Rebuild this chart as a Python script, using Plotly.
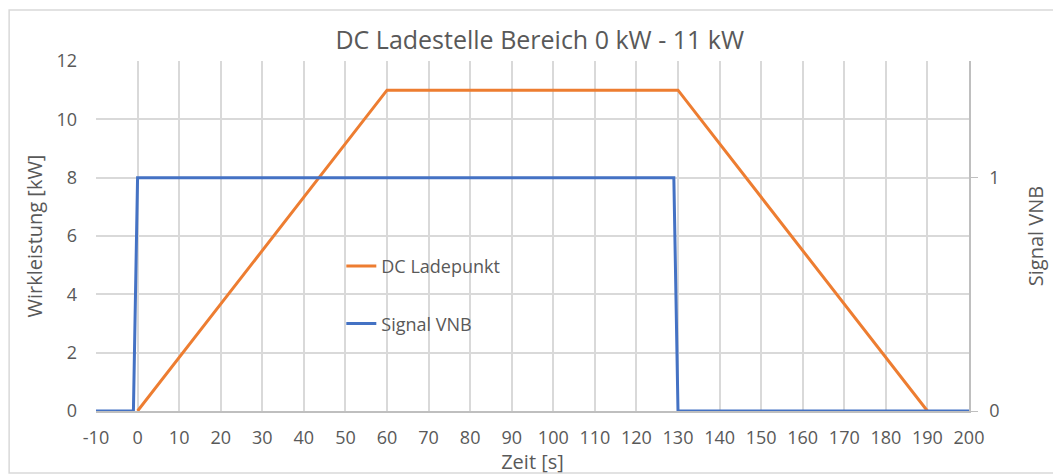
import plotly.graph_objects as go

# data
zeit_lade = [0, 60, 130, 190]
leistung_lade = [0, 11, 11, 0]

zeit_signal = [-10, -1, 0, 129, 130, 200]
signal_vnb = [0, 0, 1, 1, 0, 0]

x_ticks = list(range(-10, 201, 10))
x_labels = [str(v) for v in x_ticks]  # keeps a plain hyphen for "-10"
y_ticks = [0, 2, 4, 6, 8, 10, 12]

GREY_TEXT = "#595959"
GRID = "#d9d9d9"
ORANGE = "#ED7D31"
BLUE = "#4472C4"
FONT = "Open Sans"

fig = go.Figure()
fig.add_trace(go.Scatter(
    x=zeit_lade, y=leistung_lade, mode="lines", name="DC Ladepunkt",
    line={"color": ORANGE, "width": 3}, legendgroup="a",
))
fig.add_trace(go.Scatter(
    x=zeit_signal, y=signal_vnb, mode="lines", name="Signal VNB",
    line={"color": BLUE, "width": 3}, yaxis="y2", legendgroup="b",
))

# the page body adds an 8px offset, so the figure is sized to fit the window
fig.update_layout(
    width=1053, height=467,
    margin={"l": 88, "r": 92, "t": 53, "b": 64},
    paper_bgcolor="white", plot_bgcolor="white",
    font={"family": FONT, "color": GREY_TEXT, "size": 18},
    title={
        "text": "DC Ladestelle Bereich 0 kW - 11 kW",
        "font": {"size": 25, "color": GREY_TEXT},
        "x": 0.505, "xanchor": "center", "xref": "container",
        "y": 0.931, "yanchor": "middle", "yref": "container",
    },
    xaxis={
        "range": [-10, 200], "tickvals": x_ticks, "ticktext": x_labels,
        "showgrid": True, "gridcolor": GRID, "gridwidth": 1.5,
        "zeroline": False, "showline": True, "linecolor": "#bfbfbf",
        "linewidth": 1.5, "ticks": "", "ticklabelstandoff": 10,
        "title": {"text": "Zeit [s]", "font": {"size": 20}, "standoff": 0},
    },
    yaxis={
        "range": [0, 12], "tickvals": y_ticks, "showgrid": True,
        "gridcolor": GRID, "gridwidth": 1.5, "zeroline": False,
        "ticks": "", "ticklabelstandoff": 18,
        "title": {"text": "Wirkleistung [kW]", "font": {"size": 20}, "standoff": 8},
    },
    yaxis2={
        "range": [0, 1.5], "tickvals": [0, 1], "overlaying": "y",
        "side": "right", "showgrid": False, "zeroline": False,
        "showline": True, "linecolor": "#bfbfbf", "linewidth": 1.5,
        "ticks": "outside", "ticklen": 7, "tickcolor": "#bfbfbf",
        "ticklabelstandoff": 8,
        "title": {"text": "Signal VNB", "font": {"size": 20}, "standoff": 30},
    },
    legend={
        "x": 0.281, "y": 0.466, "xanchor": "left", "yanchor": "top",
        "bgcolor": "rgba(0,0,0,0)", "tracegroupgap": 31,
        "font": {"size": 18, "color": GREY_TEXT},
    },
    showlegend=True,
    shapes=[
        # white box behind the legend, covering the gridlines
        {"type": "rect", "xref": "paper", "yref": "paper",
         "x0": 0.237, "x1": 0.480, "y0": 0.169, "y1": 0.494,
         "fillcolor": "white", "line": {"width": 0}, "layer": "between"},
        # outer chart border
        {"type": "rect", "xref": "paper", "yref": "paper",
         "x0": -0.0995, "x1": 1.12, "y0": -0.177, "y1": 1.146,
         "line": {"color": GRID, "width": 1.5}, "fillcolor": "rgba(0,0,0,0)"},
    ],
)

fig.write_html("out.html")
